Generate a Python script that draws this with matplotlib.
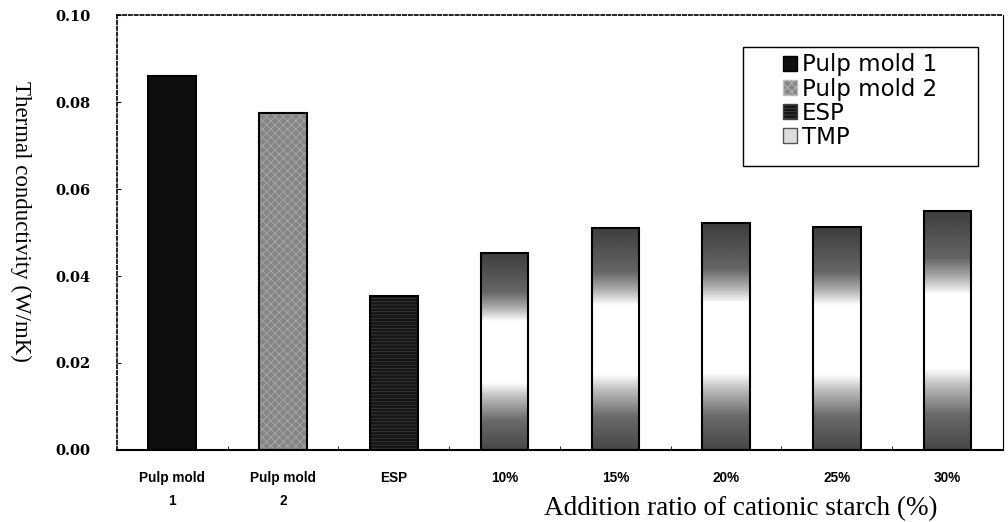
import matplotlib
matplotlib.use('Agg')
import matplotlib.pyplot as plt
import numpy as np
from matplotlib.patches import Patch, Rectangle

categories = ['Pulp mold\n1', 'Pulp mold\n2', 'ESP', '10%', '15%', '20%', '25%', '30%']
conductivity = [0.086, 0.0775, 0.0353, 0.0454, 0.0511, 0.0522, 0.0512, 0.0550]
groups = ['Pulp mold 1', 'Pulp mold 2', 'ESP', 'TMP', 'TMP', 'TMP', 'TMP', 'TMP']
legend_names = ['Pulp mold 1', 'Pulp mold 2', 'ESP', 'TMP']
yticks = [0.00, 0.02, 0.04, 0.06, 0.08, 0.10]

# shading up the TMP bars (0 = bottom, 1 = top): dark ends, white middle
tmp_pos = [0.0, 0.15, 0.27, 0.34, 0.65, 0.72, 0.8, 1.0]
tmp_grey = [0.28, 0.42, 0.75, 1.0, 1.0, 0.68, 0.4, 0.24]

styles = {
    'Pulp mold 1': dict(face='#0e0e0e', hatch=None, hcol=None),
    'Pulp mold 2': dict(face='#858585', hatch='xxxx', hcol='#a9a9a9'),
    'ESP': dict(face='#161616', hatch='-----', hcol='#3a3a3a'),
    'TMP': dict(face='none', hatch=None, hcol=None),
}


def draw(ax):
    x = np.arange(len(categories))
    width = 0.43
    plt.rcParams['hatch.linewidth'] = 0.6
    yy = np.linspace(0, 1, 300)
    grey = np.interp(yy, tmp_pos, tmp_grey)
    for xi, val, g in zip(x, conductivity, groups):
        st = styles[g]
        if g == 'TMP':
            # invisible bar used as a clip shape for the gradient
            clip = ax.bar(xi, val, width=width, color='none', linewidth=0)[0]
            img = np.repeat(grey[:, None], 10, axis=1)
            im = ax.imshow(img, cmap='gray', vmin=0, vmax=1, origin='lower',
                           extent=[xi - width / 2, xi + width / 2, 0, val],
                           aspect='auto', zorder=2, interpolation='bilinear')
            im.set_clip_path(clip)
        else:
            ax.bar(xi, val, width=width, color=st['face'], linewidth=0, zorder=2)
            if st['hatch']:
                ax.bar(xi, val, width=width, fill=False, edgecolor=st['hcol'],
                       hatch=st['hatch'], linewidth=0, zorder=2.5)
        ax.bar(xi, val, width=width, fill=False, edgecolor='black',
               linewidth=1.5, zorder=3)

    ax.set_xlim(-0.5, len(categories) - 0.5)
    ax.set_ylim(0, 0.10)
    ax.set_yticks(yticks)
    ax.set_yticklabels([f'{v:.2f}' for v in yticks], family='DejaVu Serif',
                       fontweight='bold', fontsize=10.5)
    ax.set_xticks(x)
    ax.set_xticklabels(categories, family='Liberation Sans', fontweight='bold',
                       fontsize=9.8, linespacing=1.8)
    ax.set_xticks(x[:-1] + 0.5, minor=True)
    ax.tick_params(axis='x', which='major', length=0, pad=15)
    ax.tick_params(axis='x', which='minor', length=3, direction='in')
    ax.tick_params(axis='y', which='major', length=3, direction='in', pad=19)

    for side in ['left', 'top']:
        ax.spines[side].set_linestyle((0, (2, 1.5)))
        ax.spines[side].set_linewidth(1.2)
    ax.spines['bottom'].set_linewidth(1.5)
    ax.spines['right'].set_linewidth(0.8)

    ax.set_ylabel('Thermal conductivity (W/mK)', family='Liberation Serif',
                  fontsize=16.5)
    ax.yaxis.label.set(rotation=270, rotation_mode='default', va='center', ha='center')
    ax.yaxis.set_label_coords(-0.109, 0.526)
    ax.set_xlabel('Addition ratio of cationic starch (%)', family='Liberation Serif',
                  fontsize=19.5)
    ax.xaxis.label.set(va='center', ha='center')
    ax.xaxis.set_label_coords(0.704, -0.134)

    # legend frame is wider than its content
    ax.add_patch(Rectangle((0.7065, 0.653), 0.2652, 0.2736, transform=ax.transAxes,
                           facecolor='white', edgecolor='black', linewidth=1.0,
                           zorder=4))
    handles = [
        Patch(facecolor=styles['Pulp mold 1']['face'], edgecolor='black',
              label=legend_names[0]),
        Patch(facecolor=styles['Pulp mold 2']['face'], edgecolor='#bdbdbd',
              hatch='xxxx', label=legend_names[1]),
        Patch(facecolor=styles['ESP']['face'], edgecolor='#444444', hatch='-----',
              label=legend_names[2]),
        Patch(facecolor='#dddddd', edgecolor='#555555', label=legend_names[3]),
    ]
    leg = ax.legend(handles=handles, loc='upper left', bbox_to_anchor=(0.7517, 0.912),
                    prop={'family': 'DejaVu Sans', 'size': 16.5},
                    handlelength=0.62, handleheight=0.62, handletextpad=0.2,
                    labelspacing=0.05, borderpad=0, borderaxespad=0,
                    frameon=False)
    leg.set_zorder(5)


def main():
    fig = plt.figure(figsize=(10.08, 5.22), dpi=100)
    ax = fig.add_axes([0.116, 0.138, 0.879, 0.833])
    draw(ax)
    fig.savefig('out.png', dpi=100)


if __name__ == '__main__':
    main()
